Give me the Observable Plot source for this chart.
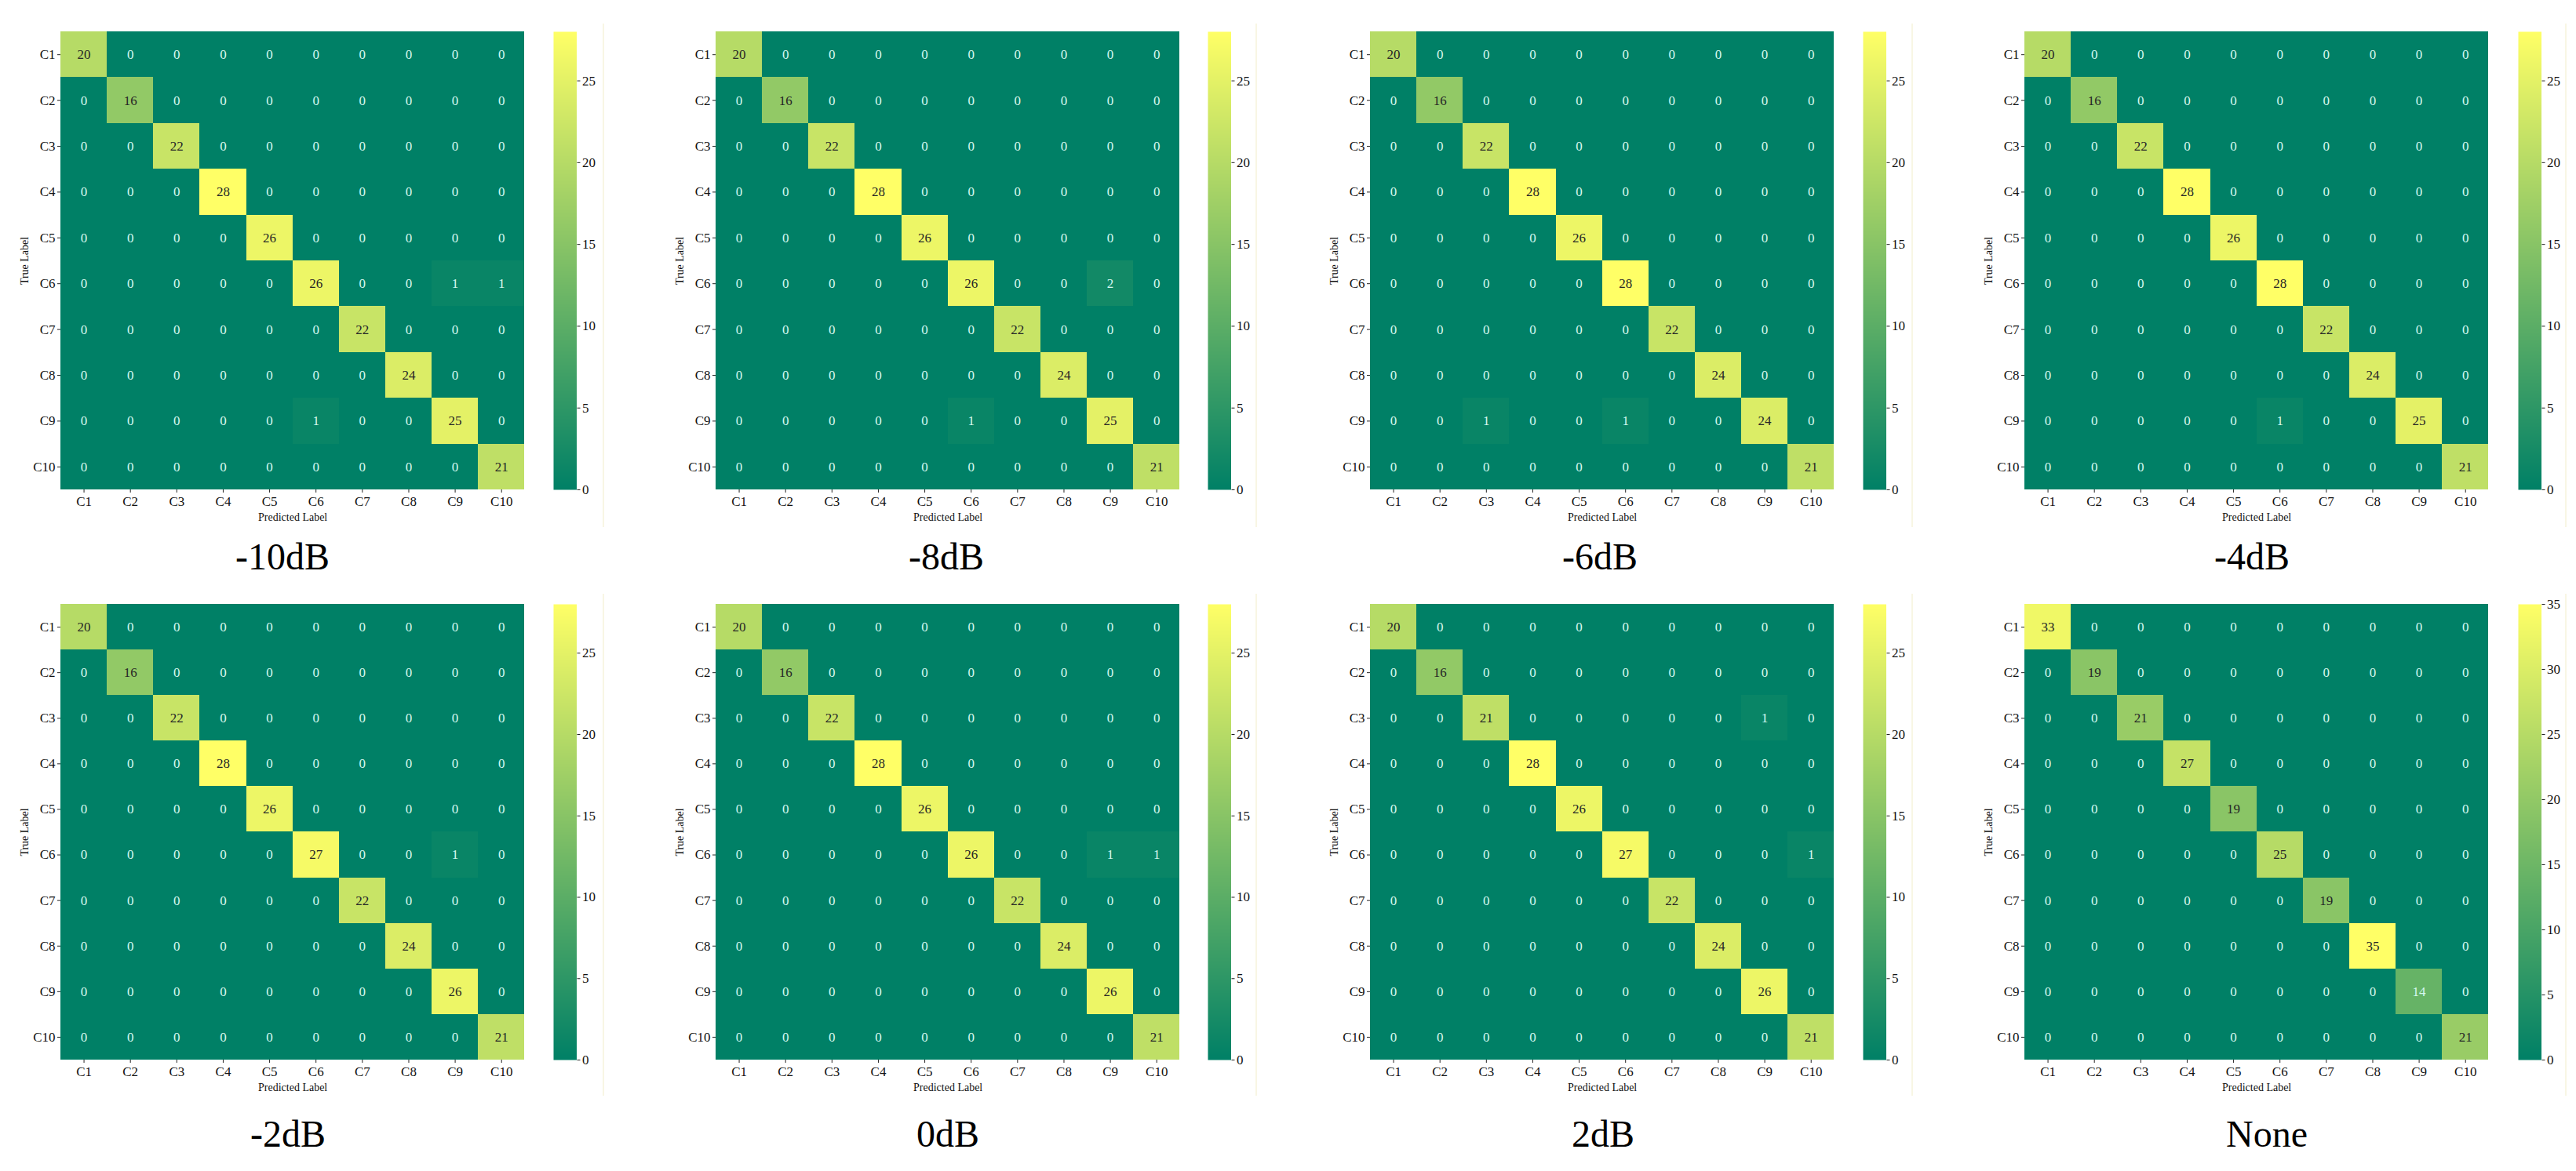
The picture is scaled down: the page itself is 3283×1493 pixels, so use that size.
<!DOCTYPE html>
<html>
<head>
<meta charset="utf-8">
<script src="https://cdn.jsdelivr.net/npm/d3@7"></script>
<script src="https://cdn.jsdelivr.net/npm/@observablehq/plot@0.6"></script>
<style>
html,body{margin:0;padding:0;background:#fff;}
#page{position:relative;width:3283px;height:1493px;overflow:hidden;background:#fff;font-family:"Liberation Serif",serif;}
.slot{position:absolute;}
.slot svg{display:block;max-width:none;background:transparent;}
.title{position:absolute;font-size:48px;line-height:1;color:#000;transform:translate(-50%,-50%);white-space:nowrap;}
.edge{position:absolute;width:1.5px;background:#f8f6e4;}
</style>
</head>
<body>
<div id="page"></div>
<script>
const classes = ["C1","C2","C3","C4","C5","C6","C7","C8","C9","C10"];
const titles = ["-10dB","-8dB","-6dB","-4dB","-2dB","0dB","2dB","None"];

// diagonal of each confusion matrix
const diagM10 = [20,16,22,28,26,26,22,24,25,21];
const diagM8  = [20,16,22,28,26,26,22,24,25,21];
const diagM6  = [20,16,22,28,26,28,22,24,24,21];
const diagM4  = [20,16,22,28,26,28,22,24,25,21];
const diagM2  = [20,16,22,28,26,27,22,24,26,21];
const diag0   = [20,16,22,28,26,26,22,24,26,21];
const diag2   = [20,16,21,28,26,27,22,24,26,21];
const diagNone = [33,19,21,27,19,25,19,35,14,21];

// non-zero off-diagonal cells: [true, predicted, count]
const offM10 = [["C6","C9",1],["C6","C10",1],["C9","C6",1]];
const offM8  = [["C6","C9",2],["C9","C6",1]];
const offM6  = [["C9","C3",1],["C9","C6",1]];
const offM4  = [["C9","C6",1]];
const offM2  = [["C6","C9",1]];
const off0   = [["C6","C9",1],["C6","C10",1]];
const off2   = [["C3","C9",1],["C6","C10",1]];
const offNone = [];

const colorMax = [28,28,28,28,28,28,28,35];
const colorTicks = [[0,5,10,15,20,25],[0,5,10,15,20,25],[0,5,10,15,20,25],[0,5,10,15,20,25],
                    [0,5,10,15,20,25],[0,5,10,15,20,25],[0,5,10,15,20,25],[0,5,10,15,20,25,30,35]];
const diags = [diagM10,diagM8,diagM6,diagM4,diagM2,diag0,diag2,diagNone];
const offs  = [offM10,offM8,offM6,offM4,offM2,off0,off2,offNone];

// layout of the page, in pixels
const heatLeft  = [76.7,912,1746,2580,76.7,912,1746,2580];
const heatWidth = 591.3;
const rowTop    = [40,770];
const rowHeight = [584,581];
const barLeft   = [705,1539,2374,3208.5];
const barWidth  = 29.5;
const edgeX     = [768,1600,2436,3269];
const edgeY     = [[30,642],[757,640]];
const titleX    = [360,1206,2039,2870,367,1208,2043,2889];
const titleY    = [710,1446];

const font = "'Liberation Serif', serif";
const lowColor = "rgb(0,128,102)", highColor = "rgb(255,255,102)";
const page = document.getElementById("page");

function cellsFor(i){
  const rows = [];
  for (const t of classes) for (const p of classes) {
    let v = t === p ? diags[i][classes.indexOf(t)] : 0;
    const hit = offs[i].find(o => o[0] === t && o[1] === p);
    if (hit) v = hit[2];
    rows.push({t, p, v});
  }
  return rows;
}

function place(node, left, top){
  const d = document.createElement("div");
  d.className = "slot";
  d.style.left = left + "px";
  d.style.top = top + "px";
  d.appendChild(node);
  page.appendChild(d);
}

titles.forEach((title, i) => {
  const row = i < 4 ? 0 : 1, col = i % 4;
  const mL = 70, mT = 10, mB = 50, mR = 2;
  const color = {type:"linear", domain:[0,colorMax[i]], range:[lowColor,highColor], interpolate:"rgb"};
  const cells = cellsFor(i);
  const heat = Plot.plot({
    width: heatWidth + mL + mR,
    height: rowHeight[row] + mT + mB,
    marginLeft: mL, marginRight: mR, marginTop: mT, marginBottom: mB,
    style: {fontFamily: font, background: "transparent", color: "#111"},
    x: {domain: classes, padding: 0, round: false, label: null},
    y: {domain: classes, padding: 0, round: false, label: null},
    color,
    marks: [
      Plot.cell(cells, {x: "p", y: "t", fill: "v", shapeRendering: "crispEdges"}),
      Plot.text(cells, {x: "p", y: "t", text: d => String(d.v), fontSize: 17,
        fill: d => d.v / colorMax[i] < 0.5 ? "#d6f8ef" : "#262626"}),
      Plot.axisX({anchor: "bottom", tickSize: 4, tickPadding: 4, fontSize: 17, label: null, stroke:"#222"}),
      Plot.axisY({anchor: "left", tickSize: 4, tickPadding: 3, fontSize: 17, label: null, stroke:"#222"}),
      Plot.axisX({anchor: "bottom", ticks: [], tickSize: 0, fontSize: 14, label: "Predicted Label",
        labelAnchor: "center", labelArrow: "none", labelOffset: 40}),
      Plot.axisY({anchor: "left", ticks: [], tickSize: 0, fontSize: 14, label: "True Label",
        labelAnchor: "center", labelArrow: "none", labelOffset: 51})
    ]
  });
  place(heat, heatLeft[i] - mL, rowTop[row] - mT);

  const bar = Plot.plot({
    width: barWidth + 2 + 44,
    height: rowHeight[row] + mT + mB,
    marginLeft: 2, marginRight: 44, marginTop: mT, marginBottom: mB,
    style: {fontFamily: font, background: "transparent", color: "#111"},
    x: {domain: [0,1], axis: null},
    y: {domain: [0,colorMax[i]], label: null},
    color,
    marks: [
      Plot.raster({fill: (x, y) => y, x1: 0, x2: 1, y1: 0, y2: colorMax[i], pixelSize: 1}),
      Plot.axisY({anchor: "right", ticks: colorTicks[i], tickSize: 4, tickPadding: 3, fontSize: 17,
        label: null, stroke:"#222", tickFormat: d => String(d)})
    ]
  });
  place(bar, barLeft[col] - 2, rowTop[row] - mT);

  const t = document.createElement("div");
  t.className = "title";
  t.textContent = title;
  t.style.left = titleX[i] + "px";
  t.style.top = titleY[row] + "px";
  page.appendChild(t);
});

edgeX.forEach(x => edgeY.forEach(([y, h]) => {
  const e = document.createElement("div");
  e.className = "edge";
  e.style.left = x + "px";
  e.style.top = y + "px";
  e.style.height = h + "px";
  page.appendChild(e);
}));
</script>
</body>
</html>
